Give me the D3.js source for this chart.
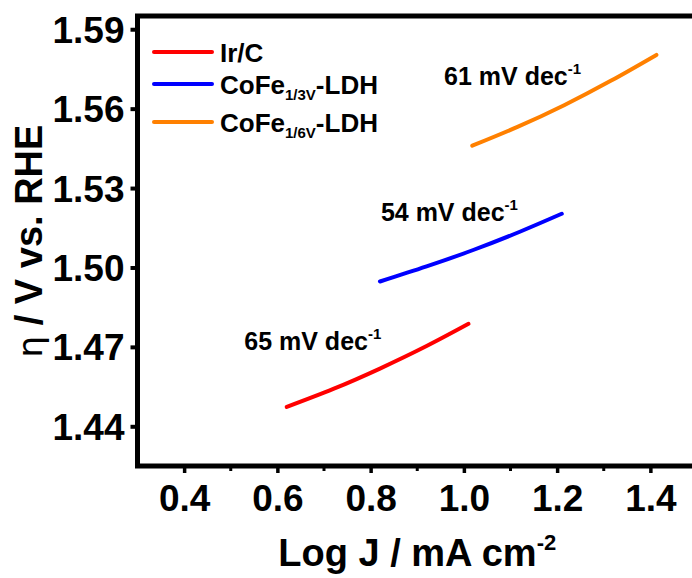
<!DOCTYPE html>
<html>
<head>
<meta charset="utf-8">
<script src="https://cdn.jsdelivr.net/npm/d3@7/dist/d3.min.js"></script>
<style>
  body { margin: 0; background: #fff; }
  svg { display: block; font-family: "Liberation Sans", Arial, Helvetica, sans-serif; font-weight: bold; }
</style>
</head>
<body>
<svg id="chart" width="692" height="578"></svg>
<script>
// Tafel plots: overpotential vs. log current density
const seriesNames = ["Ir/C", "CoFe1/3V-LDH", "CoFe1/6V-LDH"];
const seriesColors = ["#ff0000", "#0000ff", "#ff8000"];

const irC_logJ = [0.62, 0.72, 0.82, 0.92, 1.01];
const irC_eta = [1.4473, 1.4541, 1.4618, 1.4703, 1.4787];

const coFe13_logJ = [0.82, 0.92, 1.02, 1.12, 1.21];
const coFe13_eta = [1.4947, 1.5004, 1.5066, 1.5135, 1.5203];

const coFe16_logJ = [1.018, 1.115, 1.215, 1.315, 1.413];
const coFe16_eta = [1.5460, 1.5531, 1.5613, 1.5705, 1.5803];

// Tafel slopes, mV dec-1
const tafelSlopes = [65, 54, 61];

const xTicks = [0.4, 0.6, 0.8, 1.0, 1.2, 1.4];
const xMinorTicks = [0.5, 0.7, 0.9, 1.1, 1.3];
const yTicks = [1.44, 1.47, 1.50, 1.53, 1.56, 1.59];

const xDomain = [0.3, 1.5];
const yDomain = [1.425, 1.595];

// ---- layout ----
const plot = { left: 137.5, right: 697, top: 16, bottom: 466 };
const svg = d3.select("#chart");

const x = d3.scaleLinear().domain(xDomain).range([plot.left, plot.right]);
const y = d3.scaleLinear().domain(yDomain).range([plot.bottom, plot.top]);

const series = [
  { name: seriesNames[0], color: seriesColors[0], xs: irC_logJ, ys: irC_eta, slope: tafelSlopes[0] },
  { name: seriesNames[1], color: seriesColors[1], xs: coFe13_logJ, ys: coFe13_eta, slope: tafelSlopes[1] },
  { name: seriesNames[2], color: seriesColors[2], xs: coFe16_logJ, ys: coFe16_eta, slope: tafelSlopes[2] }
];

// slope label anchors, in data units (left edge / baseline)
const slopeAnchors = [
  { lx: 0.529, ly: 1.4690 },
  { lx: 0.822, ly: 1.5176 },
  { lx: 0.9575, ly: 1.5689 }
];

// ---- axes ----
const tickFont = 37;

const xAxis = d3.axisBottom(x).tickValues(xTicks).tickFormat(d3.format(".1f"))
  .tickSizeInner(7).tickSizeOuter(0).tickPadding(12);
const gx = svg.append("g").attr("transform", `translate(0,${plot.bottom})`).call(xAxis);
gx.select(".domain").remove();
gx.selectAll(".tick line").attr("stroke", "#000").attr("stroke-width", 3.5);
gx.selectAll(".tick text").attr("font-size", tickFont).attr("fill", "#000").attr("dy", "0.71em");

svg.append("g").selectAll("line").data(xMinorTicks).join("line")
  .attr("x1", d => x(d)).attr("x2", d => x(d))
  .attr("y1", plot.bottom).attr("y2", plot.bottom + 5)
  .attr("stroke", "#000").attr("stroke-width", 3);

const yAxis = d3.axisLeft(y).tickValues(yTicks).tickFormat(d3.format(".2f"))
  .tickSizeInner(7).tickSizeOuter(0).tickPadding(6);
const gy = svg.append("g").attr("transform", `translate(${plot.left},0)`).call(yAxis);
gy.select(".domain").remove();
gy.selectAll(".tick line").attr("stroke", "#000").attr("stroke-width", 4);
gy.selectAll(".tick text").attr("font-size", tickFont).attr("fill", "#000").attr("dy", "0.35em");

// frame
svg.append("rect")
  .attr("x", plot.left).attr("y", plot.top)
  .attr("width", plot.right - plot.left).attr("height", plot.bottom - plot.top)
  .attr("fill", "none").attr("stroke", "#000").attr("stroke-width", 5);

// ---- curves ----
const line = d3.line().x(d => x(d[0])).y(d => y(d[1])).curve(d3.curveNatural);
svg.append("g").selectAll("path").data(series).join("path")
  .attr("d", s => line(s.xs.map((v, i) => [v, s.ys[i]])))
  .attr("fill", "none")
  .attr("stroke", s => s.color)
  .attr("stroke-width", 4)
  .attr("stroke-linecap", "round");

// ---- slope annotations ----
const ann = svg.append("g").selectAll("text").data(series).join("text")
  .attr("x", (s, i) => x(slopeAnchors[i].lx))
  .attr("y", (s, i) => y(slopeAnchors[i].ly))
  .attr("font-size", 25).attr("fill", "#000");
ann.append("tspan").text(s => `${s.slope} mV dec`);
ann.append("tspan").attr("font-size", 15).attr("dy", -11).text("-1");

// ---- legend ----
const legendRows = [52, 84, 122];
const lg = svg.append("g");
series.forEach((s, i) => {
  const ly = legendRows[i];
  lg.append("line")
    .attr("x1", 154).attr("x2", 212).attr("y1", ly).attr("y2", ly)
    .attr("stroke", s.color).attr("stroke-width", 4).attr("stroke-linecap", "round");
  const t = lg.append("text").attr("x", 220).attr("y", ly + 9.5).attr("font-size", 26).attr("fill", "#000");
  const m = s.name.match(/^(CoFe)(1\/\dV)(-LDH)$/);
  if (m) {
    t.append("tspan").text(m[1]);
    t.append("tspan").attr("font-size", 15).attr("dy", 6).text(m[2]);
    t.append("tspan").attr("dy", -6).text(m[3]);
  } else {
    t.text(s.name);
  }
});

// ---- axis titles ----
const xt = svg.append("text")
  .attr("x", (plot.left + plot.right) / 2).attr("y", 566)
  .attr("text-anchor", "middle").attr("font-size", 38).attr("fill", "#000");
xt.append("tspan").text("Log J / mA cm");
xt.append("tspan").attr("font-size", 22).attr("dy", -16).text("-2");

const yt = svg.append("text")
  .attr("transform", `translate(42,${(plot.top + plot.bottom) / 2}) rotate(-90)`)
  .attr("text-anchor", "middle").attr("font-size", 38).attr("fill", "#000");
yt.append("tspan").attr("font-weight", "normal").attr("font-family", "DejaVu Sans, sans-serif").attr("font-size", 34).text("η");
yt.append("tspan").text(" / V vs. RHE");
</script>
</body>
</html>
